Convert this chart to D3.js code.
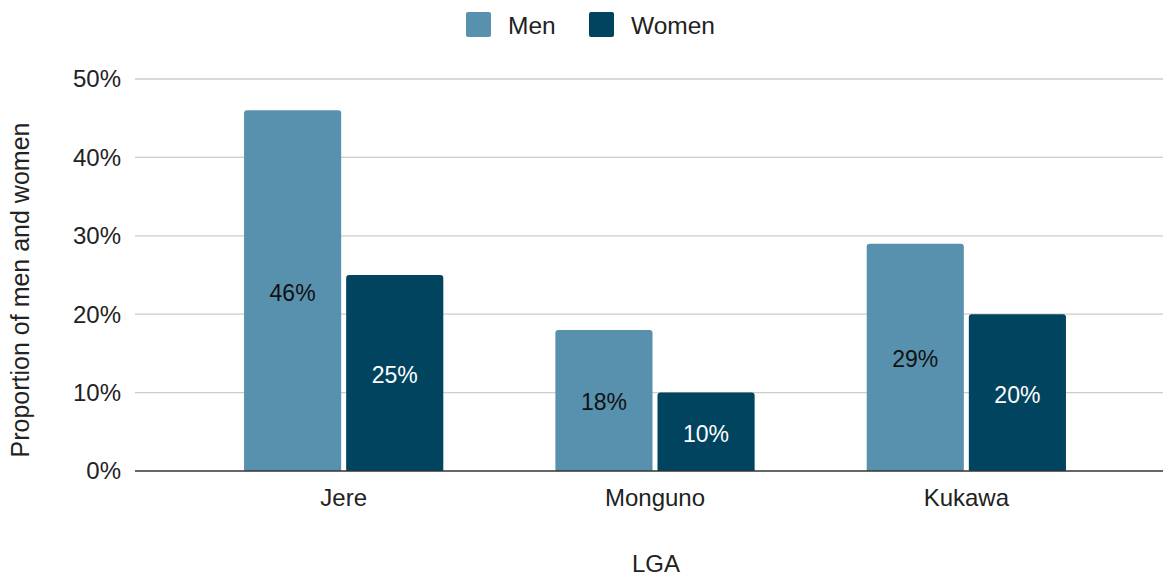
<!DOCTYPE html>
<html><head><meta charset="utf-8">
<script src="https://cdn.jsdelivr.net/npm/d3@7"></script>
<style>body{margin:0;background:#fff;}text{font-family:"Liberation Sans",Arial,sans-serif;}</style>
</head><body>
<svg id="c" width="1165" height="576"></svg>
<script>
const categories = ["Jere", "Monguno", "Kukawa"];
const seriesNames = ["Men", "Women"];
const men = [46, 18, 29];
const women = [25, 10, 20];
const yTicks = [0, 10, 20, 30, 40, 50];
const colors = ["#5891AD", "#01445F"];
const labelColors = ["#111", "#fff"];

const svg = d3.select("#c");
const y = d3.scaleLinear().domain([0, 50]).range([471, 79]);
const x0 = d3.scaleBand().domain(categories).range([188, 1122]).paddingInner(0.36).paddingOuter(0.18);
const x1 = d3.scaleBand().domain(seriesNames).range([0, x0.bandwidth()]).paddingInner(0.049);

// gridlines
svg.append("g").selectAll("line").data(yTicks.filter(d=>d>0)).join("line")
  .attr("x1",135).attr("x2",1163).attr("y1",d=>y(d)).attr("y2",d=>y(d))
  .attr("stroke","#cccccc").attr("stroke-width",1.3);

// y tick labels
svg.append("g").selectAll("text").data(yTicks).join("text")
  .attr("x",121).attr("y",d=>y(d)).attr("dy","0.35em").attr("text-anchor","end")
  .attr("font-size",24).attr("fill","#222").text(d=>d+"%");

const data = categories.map((c,i)=>({cat:c, vals:[men[i], women[i]]}));
function barPath(x, yt, w, yb, r){
  return `M${x},${yb}V${yt+r}Q${x},${yt} ${x+r},${yt}H${x+w-r}Q${x+w},${yt} ${x+w},${yt+r}V${yb}Z`;
}
const g = svg.append("g");
data.forEach(d=>{
  d.vals.forEach((v,j)=>{
    const bx = x0(d.cat)+x1(seriesNames[j]);
    const w = x1.bandwidth();
    g.append("path").attr("d", barPath(bx, y(v), w, y(0), 3)).attr("fill", colors[j]);
    g.append("text").attr("x", bx+w/2).attr("y", (y(v)+y(0))/2+2).attr("dy","0.35em")
      .attr("text-anchor","middle").attr("font-size",23).attr("font-family","Roboto, sans-serif")
      .attr("fill",labelColors[j]).text(v+"%");
  });
});

// baseline
svg.append("line").attr("x1",135).attr("x2",1163).attr("y1",y(0)).attr("y2",y(0))
  .attr("stroke","#333").attr("stroke-width",1.5);

// category labels
svg.append("g").selectAll("text").data(categories).join("text")
  .attr("x",d=>x0(d)+x0.bandwidth()/2).attr("y",498).attr("dy","0.35em").attr("text-anchor","middle")
  .attr("font-size",24).attr("fill","#222").text(d=>d);

// axis titles
svg.append("text").attr("x",656).attr("y",564).attr("dy","0.35em").attr("text-anchor","middle")
  .attr("font-size",24).attr("fill","#222").text("LGA");
svg.append("text").attr("transform","translate(20,290) rotate(-90)").attr("dy","0.35em")
  .attr("text-anchor","middle").attr("font-size",25).attr("fill","#222").text("Proportion of men and women");

// legend
const legX = [466, 589];
seriesNames.forEach((s,j)=>{
  svg.append("rect").attr("x",legX[j]).attr("y",12).attr("width",25).attr("height",25).attr("rx",2).attr("fill",colors[j]);
  svg.append("text").attr("x",legX[j]+42).attr("y",25).attr("dy","0.35em").attr("font-size",24.5).attr("fill","#222").text(s);
});
</script>
</body></html>
